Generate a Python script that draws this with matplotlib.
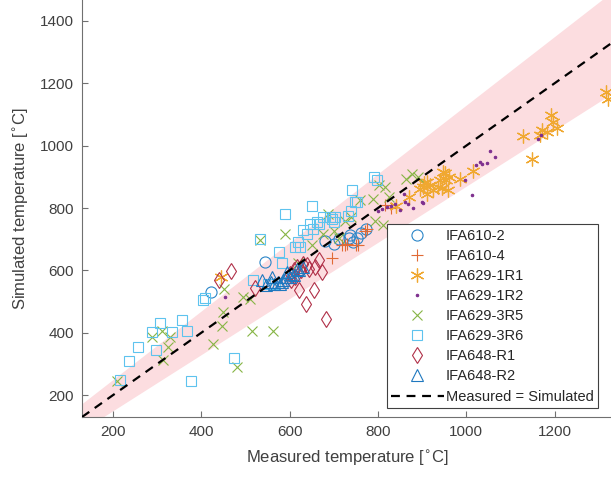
import matplotlib
matplotlib.use("Agg")
import matplotlib.pyplot as plt

plt.rcParams['font.family'] = ['Liberation Sans', 'DejaVu Sans']
plt.rcParams['mathtext.fontset'] = 'dejavusans'

# ---------------- data ----------------
s610_2_x = [422, 545, 680, 700, 712, 735, 743, 737, 752, 762, 773]
s610_2_y = [530, 627, 695, 684, 700, 705, 690, 712, 705, 720, 733]

s610_4_x = [697, 718, 725, 729, 750, 756, 771, 775, 815, 830]
s610_4_y = [640, 680, 682, 686, 680, 683, 726, 732, 810, 800]

s629_1r1_x = [445, 841, 870, 895, 902, 905, 910, 912, 918, 925, 935, 940, 944, 948, 952,
              955, 958, 960, 986, 1016, 1129, 1148, 1167, 1171, 1182, 1193, 1196, 1205, 1316, 1320]
s629_1r1_y = [578, 808, 835, 860, 868, 880, 846, 885, 875, 857, 868, 890, 863, 915, 911,
              889, 857, 900, 892, 918, 1030, 958, 1034, 1050, 1044, 1098, 1076, 1055, 1172, 1148]

s629_1r2_x = [454, 800, 810, 820, 830, 839, 850, 858, 861, 869, 880, 899, 903, 997, 1012,
              1023, 1031, 1035, 1046, 1054, 1065, 1162, 1170]
s629_1r2_y = [514, 790, 798, 803, 808, 814, 793, 846, 820, 814, 801, 819, 816, 889, 841,
              937, 948, 940, 945, 983, 964, 1022, 1035]

s629_3r5_x = [210, 288, 310, 314, 325, 329, 427, 446, 450, 451, 480, 495, 510, 514, 533, 563,
              590, 620, 650, 676, 688, 700, 712, 725, 740, 759, 789, 793, 802, 812, 816, 824,
              864, 877, 890]
s629_3r5_y = [247, 386, 407, 313, 354, 386, 364, 423, 466, 541, 289, 514, 509, 407, 696, 407,
              718, 625, 680, 718, 782, 725, 705, 760, 770, 825, 830, 760, 873, 745, 868, 835,
              894, 910, 900]

s629_3r6_x = [217, 237, 256, 288, 298, 307, 333, 356, 367, 376, 405, 409, 474, 518, 533, 551,
              568, 577, 583, 590, 613, 620, 624, 631, 639, 646, 650, 653, 661, 666, 676, 691,
              696, 701, 703, 732, 740, 742, 749, 753, 791, 797]
s629_3r6_y = [250, 311, 353, 402, 345, 431, 402, 442, 407, 247, 504, 510, 318, 568, 702, 557,
              556, 659, 625, 780, 675, 691, 675, 728, 718, 750, 807, 734, 755, 750, 771, 771,
              766, 755, 771, 776, 792, 857, 819, 820, 899, 889]

s648_r1_x = [440, 468, 522, 600, 604, 610, 613, 617, 622, 626, 630, 637, 639, 645, 655, 657,
             666, 673, 683]
s648_r1_y = [568, 598, 545, 589, 568, 600, 579, 611, 536, 600, 620, 491, 616, 605, 536, 611,
             632, 595, 445]

s648_r2_x = [537, 547, 557, 560, 565, 573, 578, 582, 586, 591, 593, 595, 600, 604, 610, 616,
             622, 631]
s648_r2_y = [568, 552, 563, 579, 557, 563, 557, 563, 570, 579, 578, 595, 579, 589, 585, 605,
             600, 611]

series_labels = ['IFA610-2', 'IFA610-4', 'IFA629-1R1', 'IFA629-1R2',
                 'IFA629-3R5', 'IFA629-3R6', 'IFA648-R1', 'IFA648-R2']

line_x = [130, 1330]
line_y = [130, 1330]

band_x = [130, 1330]
band_lo = [87, 1167]
band_hi = [173, 1493]

x_ticks = [200, 400, 600, 800, 1000, 1200]
y_ticks = [200, 400, 600, 800, 1000, 1200, 1400]

# ---------------- plot ----------------
fig = plt.figure(figsize=(6.11, 4.78), dpi=100)
ax = fig.add_axes([82 / 611, 61 / 478, 530 / 611, 417 / 478])

ax.fill_between(band_x, band_lo, band_hi, color='#fcdde0', linewidth=0, zorder=1)

styles = [
    (s610_2_x, s610_2_y, 'o', '#2a85c8', 8),
    (s610_4_x, s610_4_y, '+', '#e06a35', 8.5),
    (s629_1r1_x, s629_1r1_y, '*', '#F0A830', 10),
    (s629_1r2_x, s629_1r2_y, '.', '#7E2F8E', 3.5),
    (s629_3r5_x, s629_3r5_y, 'x', '#86b545', 6.5),
    (s629_3r6_x, s629_3r6_y, 's', '#5ec3ee', 7),
    (s648_r1_x, s648_r1_y, 'd', '#b03048', 8),
    (s648_r2_x, s648_r2_y, '^', '#1f78bf', 8),
]
handles = []
for (xs, ys, m, c, ms), lab in zip(styles, series_labels):
    if m in ('+', 'x', '.'):
        h, = ax.plot(xs, ys, linestyle='none', marker=m, color=c, markersize=ms,
                     markeredgewidth=0.8, label=lab, zorder=3)
    elif m == '*':
        h, = ax.plot(xs, ys, linestyle='none', marker=(6, 2, 0), color=c, markersize=ms,
                     markeredgewidth=0.9, label=lab, zorder=3)
    else:
        h, = ax.plot(xs, ys, linestyle='none', marker=m, color=c, markersize=ms,
                     markerfacecolor='none', markeredgecolor=c, markeredgewidth=0.8,
                     label=lab, zorder=3)
    handles.append(h)

hl, = ax.plot(line_x, line_y, color='black', linestyle=(0, (4, 3)), linewidth=1.6,
              label='Measured = Simulated', zorder=4)
handles.append(hl)

ax.set_xlim(130, 1330)
ax.set_ylim(130, 1467)
ax.set_xticks(x_ticks)
ax.set_yticks(y_ticks)

axcol = '#404040'
for side in ('top', 'right'):
    ax.spines[side].set_visible(False)
for side in ('left', 'bottom'):
    ax.spines[side].set_color('#707070')
    ax.spines[side].set_linewidth(0.8)
ax.tick_params(direction='in', length=4, width=0.8, color='#707070',
               labelsize=11, labelcolor=axcol, pad=6)

ax.set_xlabel(r'Measured temperature [$^{\circ}$C]', fontsize=12, color=axcol, labelpad=6)
ax.set_ylabel(r'Simulated temperature [$^{\circ}$C]', fontsize=12, color=axcol, labelpad=6)

leg = ax.legend(handles=handles, loc='lower right', bbox_to_anchor=(0.9736, 0.0216),
                fontsize=10.5, frameon=True, fancybox=False, edgecolor='#404040',
                framealpha=1, handlelength=3.6, handletextpad=0.15, labelspacing=0.42,
                borderpad=0.3, borderaxespad=0)
leg.get_frame().set_linewidth(0.8)
for t in leg.get_texts():
    t.set_color('#262626')

fig.savefig('out.png', dpi=100)
